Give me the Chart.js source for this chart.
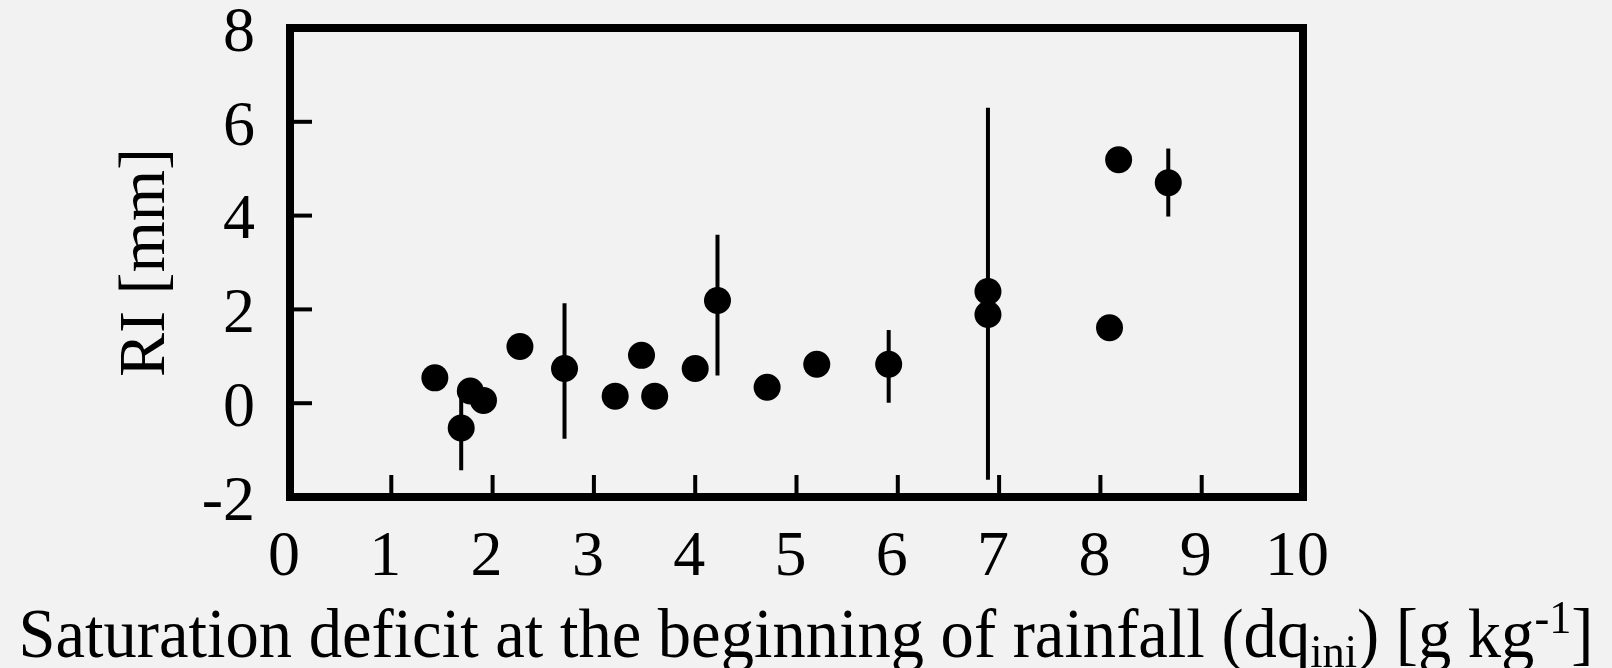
<!DOCTYPE html>
<html>
<head>
<meta charset="utf-8">
<script src="https://cdn.jsdelivr.net/npm/chart.js@4.4.0/dist/chart.umd.min.js"></script>
<style>
  html, body { margin: 0; padding: 0; background: #f2f2f2; }
  #wrap { width: 1612px; height: 668px; }
</style>
</head>
<body>
<div id="wrap"><canvas id="ri-chart"></canvas></div>
<script>
// saturation deficit at start of rain [g/kg] and RI [mm] per event
const dqIni  = [1.43, 1.78, 1.69, 1.91, 2.27, 2.71, 3.21, 3.47, 3.60, 4.00, 4.22, 4.71, 5.20, 5.91, 6.89, 6.89, 8.09, 8.18, 8.67];
const riMean = [0.54, 0.26, -0.53, 0.06, 1.21, 0.74, 0.15, 1.02, 0.15, 0.74, 2.19, 0.34, 0.83, 0.83, 2.38, 1.89, 1.61, 5.19, 4.70];
// error bar ends (null = no bar)
const riHigh = [null, null, 0.35, null, null, 2.13, null, null, null, null, 3.59, null, null, 1.56, 6.30, null, null, null, 5.43];
const riLow  = [null, null, -1.43, null, null, -0.76, null, null, null, null, 0.59, null, null, 0.01, -1.63, null, null, null, 3.98];

const xTitleParts = [
    ['Saturation deficit at the beginning of rainfall (dq', 0],
    ['ini', 1],
    [') [g kg', 0],
    ['-1', -1],
    [']', 0],
];
const yTitle = 'RI [mm]';

const SERIF = "'Liberation Serif', 'Times New Roman', serif";

// error bars, drawn under the dots
const errorBars = {
    id: 'errorBars',
    beforeDatasetsDraw(chart) {
        const { ctx, scales: { x, y } } = chart;
        ctx.save();
        ctx.strokeStyle = '#000';
        ctx.lineWidth = 4;
        dqIni.forEach((v, i) => {
            if (riHigh[i] == null) return;
            const px = x.getPixelForValue(v);
            ctx.beginPath();
            ctx.moveTo(px, y.getPixelForValue(riHigh[i]));
            ctx.lineTo(px, y.getPixelForValue(riLow[i]));
            ctx.stroke();
        });
        ctx.restore();
    }
};

// box frame with inward ticks
const frame = {
    id: 'frame',
    afterDraw(chart) {
        const { ctx, chartArea: a, scales: { x, y } } = chart;
        ctx.save();
        ctx.strokeStyle = '#000';
        ctx.lineJoin = 'miter';
        ctx.lineWidth = 8;
        ctx.strokeRect(a.left, a.top, a.right - a.left, a.bottom - a.top);

        ctx.lineWidth = 4;
        x.ticks.slice(1, -1).forEach(t => {
            const px = x.getPixelForValue(t.value);
            ctx.beginPath();
            ctx.moveTo(px, a.bottom - 4);
            ctx.lineTo(px, a.bottom - 22);
            ctx.stroke();
        });
        y.ticks.slice(1, -1).forEach(t => {
            const py = y.getPixelForValue(t.value);
            ctx.beginPath();
            ctx.moveTo(a.left + 4, py);
            ctx.lineTo(a.left + 22, py);
            ctx.stroke();
        });
        ctx.restore();
    }
};

// x axis title with subscript / superscript
const xTitle = {
    id: 'xTitle',
    afterDraw(chart) {
        const { ctx, width } = chart;
        const big = 69, small = 46;
        ctx.save();
        ctx.fillStyle = '#000';
        ctx.textBaseline = 'alphabetic';
        let total = 0;
        const widths = xTitleParts.map(([txt, kind]) => {
            ctx.font = (kind ? small : big) + 'px ' + SERIF;
            const w = ctx.measureText(txt).width;
            total += w;
            return w;
        });
        const targetW = 1575;
        const sx = targetW / total;
        ctx.translate(width / 2 - targetW / 2, 657);
        ctx.scale(sx, 1);
        let cx = 0;
        xTitleParts.forEach(([txt, kind], i) => {
            ctx.font = (kind ? small : big) + 'px ' + SERIF;
            const dy = kind === 1 ? 10 : kind === -1 ? -24 : 0;
            ctx.fillText(txt, cx, dy);
            cx += widths[i];
        });
        ctx.restore();
    }
};

new Chart(document.getElementById('ri-chart'), {
    type: 'scatter',
    data: {
        datasets: [{
            label: 'RI',
            data: dqIni.map((v, i) => ({ x: v, y: riMean[i] })),
            backgroundColor: '#000',
            borderWidth: 0,
            pointRadius: 13.5,
            pointHoverRadius: 13.5,
        }]
    },
    options: {
        responsive: true,
        maintainAspectRatio: false,
        animation: false,
        layout: { padding: { top: 28, right: 309, bottom: 0, left: 0 } },
        plugins: {
            legend: { display: false },
            tooltip: { enabled: false },
        },
        scales: {
            x: {
                type: 'linear',
                min: 0,
                max: 10,
                grid: { display: false, drawTicks: false },
                border: { display: false },
                ticks: {
                    stepSize: 1,
                    color: '#000',
                    padding: 29,
                    labelOffset: -6,
                    maxRotation: 0,
                    autoSkip: false,
                    font: { family: SERIF, size: 64, lineHeight: 1 },
                },
                afterFit: s => { s.height = 171; s.paddingLeft = 0; s.paddingRight = 0; },
            },
            y: {
                type: 'linear',
                min: -2,
                max: 8,
                grid: { display: false, drawTicks: false },
                border: { display: false },
                ticks: {
                    stepSize: 2,
                    color: '#000',
                    padding: 35,
                    labelOffset: 6,
                    font: { family: SERIF, size: 64, lineHeight: 1 },
                },
                title: {
                    display: true,
                    text: yTitle,
                    color: '#000',
                    padding: { top: 114, bottom: 0 },
                    font: { family: SERIF, size: 66, lineHeight: 1 },
                },
                afterFit: s => { s.width = 290; s.paddingTop = 0; s.paddingBottom = 0; },
            }
        }
    },
    plugins: [errorBars, frame, xTitle]
});
</script>
</body>
</html>
